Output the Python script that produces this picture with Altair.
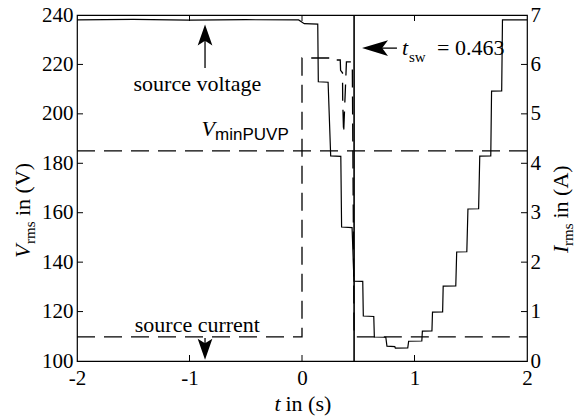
import altair as alt
import pandas as pd

# ---------------- data ----------------
# source voltage (rms), t in s, V in volts
t_volt = [-2.0, -1.5, -1.0, -0.5, -0.03, 0.02, 0.14, 0.145, 0.232, 0.255, 0.345, 0.352,
          0.445, 0.462, 0.54, 0.545, 0.638, 0.643, 0.745, 0.755, 0.825, 0.83, 0.94, 0.948,
          1.065, 1.07, 1.155, 1.16, 1.25, 1.255, 1.367, 1.375, 1.465, 1.475, 1.57, 1.58,
          1.678, 1.685, 1.775, 1.782, 2.0]
v_volt = [238.0, 238.2, 237.9, 238.1, 238.0, 236.5, 236.3, 213.0, 212.8, 183.0, 182.8, 154.2,
          154.0, 132.3, 132.2, 118.2, 118.0, 109.7, 109.6, 106.0, 105.8, 105.2, 105.3, 108.0,
          108.1, 112.1, 112.2, 119.8, 119.9, 130.3, 130.4, 144.1, 144.2, 161.5, 161.6, 182.9,
          183.0, 209.2, 209.3, 238.0, 238.0]

# source current (rms), A
t_curr = [-2.0, 0.0, 0.0, 0.29, 0.295, 0.34, 0.343, 0.36, 0.362, 0.37, 0.395, 0.447, 0.463, 2.0]
i_curr = [0.49, 0.49, 6.13, 6.13, 6.09, 6.09, 5.88, 5.83, 5.24, 4.61, 6.05, 6.05, 0.49, 0.49]

v_min_puvp = [185]
t_sw = [0.463]

x_ticks = [-2, -1, 0, 1, 2]
v_ticks = [100, 120, 140, 160, 180, 200, 220, 240]
i_ticks = [0, 1, 2, 3, 4, 5, 6, 7]

# ---------------- setup ----------------
W, H = 450, 346
SERIF = "Liberation Serif"
SANS = "Liberation Sans"
FS = 21
FA = 22
XS = alt.Scale(domain=[-2, 2], nice=False, zero=False)
VS = alt.Scale(domain=[100, 240], nice=False, zero=False)
IS = alt.Scale(domain=[0, 7], nice=False, zero=False)

volt_df = pd.DataFrame({"t": t_volt, "v": v_volt, "k": range(len(t_volt))})
curr_df = pd.DataFrame({"t": t_curr, "i": i_curr, "k": range(len(t_curr))})

lab = dict(labelFont=SERIF, labelFontSize=FS, labelColor="black", ticks=False,
           domain=False, grid=False, title=None)

volt = alt.Chart(volt_df).mark_line(color="black", strokeWidth=1.2).encode(
    x=alt.X("t:Q", scale=XS, axis=alt.Axis(values=x_ticks, labelPadding=6, labelFlush=False,
            labelExpr="datum.value < 0 ? '-' + abs(datum.value) : '' + datum.value", **lab)),
    y=alt.Y("v:Q", scale=VS, axis=alt.Axis(orient="left", values=v_ticks, labelPadding=4, **lab)),
    order="k:Q",
)

curr = alt.Chart(curr_df).mark_line(color="black", strokeWidth=1.3, strokeDash=[18, 9]).encode(
    x=alt.X("t:Q", scale=XS, axis=None),
    y=alt.Y("i:Q", scale=IS, axis=alt.Axis(orient="right", values=i_ticks, labelPadding=3, **lab)),
    order="k:Q",
)

puvp = alt.Chart(pd.DataFrame({"v": v_min_puvp})).mark_rule(
    color="black", strokeWidth=1.3, strokeDash=[18, 9]).encode(
    y=alt.Y("v:Q", scale=VS, axis=None))

tsw = alt.Chart(pd.DataFrame({"t": t_sw})).mark_rule(color="black", strokeWidth=1.6).encode(
    x=alt.X("t:Q", scale=XS, axis=None))

# inward ticks
xt_in = pd.DataFrame({"t": x_ticks[1:-1]})
tick_b = alt.Chart(xt_in).mark_rule(color="black").encode(
    x=alt.X("t:Q", scale=XS, axis=None), y=alt.value(H), y2=alt.value(H - 6))
tick_t = alt.Chart(xt_in).mark_rule(color="black").encode(
    x=alt.X("t:Q", scale=XS, axis=None), y=alt.value(0), y2=alt.value(6))
tick_l = alt.Chart(pd.DataFrame({"v": v_ticks[1:-1]})).mark_rule(color="black").encode(
    y=alt.Y("v:Q", scale=VS, axis=None), x=alt.value(0), x2=alt.value(6))
tick_r = alt.Chart(pd.DataFrame({"i": i_ticks[1:-1]})).mark_rule(color="black").encode(
    y=alt.Y("i:Q", scale=IS, axis=None), x=alt.value(W), x2=alt.value(W - 6))


# ---------------- annotations ----------------
def dtext(t, v, s, size=FA, font=SERIF, style="normal", align="left", baseline="alphabetic"):
    return alt.Chart(pd.DataFrame({"t": [t], "v": [v], "s": [s]})).mark_text(
        font=font, fontSize=size, fontStyle=style, align=align, baseline=baseline,
        color="black").encode(
        x=alt.X("t:Q", scale=XS, axis=None), y=alt.Y("v:Q", scale=VS, axis=None), text="s:N")


def ptext(x, y, s, size=FA, font=SERIF, style="normal", align="left", angle=0):
    return alt.Chart(pd.DataFrame({"s": [s]})).mark_text(
        font=font, fontSize=size, fontStyle=style, align=align, baseline="alphabetic",
        angle=angle, color="black").encode(x=alt.value(x), y=alt.value(y), text="s:N")


def shaft(t1, v1, t2, v2):
    return alt.Chart(pd.DataFrame({"t": [t1], "v": [v1], "t2": [t2], "v2": [v2]})).mark_rule(
        color="black", strokeWidth=1.3).encode(
        x=alt.X("t:Q", scale=XS, axis=None), x2="t2:Q",
        y=alt.Y("v:Q", scale=VS, axis=None), y2="v2:Q")


def head(t, v, path, size):
    return alt.Chart(pd.DataFrame({"t": [t], "v": [v]})).mark_point(
        shape=path, size=size, filled=True, color="black", opacity=1, strokeWidth=0).encode(
        x=alt.X("t:Q", scale=XS, axis=None), y=alt.Y("v:Q", scale=VS, axis=None))


UP = "M0,-1 L0.7,1 L0,0.55 L-0.7,1 Z"
DOWN = "M0,1 L0.7,-1 L0,-0.55 L-0.7,-1 Z"
LEFT = "M-1,0 L1,-0.6 L0.55,0 L1,0.6 Z"

annots = [
    dtext(-0.93, 212, "source voltage", align="center", baseline="middle"),
    shaft(-0.862, 218.6, -0.862, 231.5),
    head(-0.862, 231.9, UP, 440),
    dtext(-0.93, 114.5, "source current", align="center", baseline="middle"),
    shaft(-0.862, 109.3, -0.862, 105.5),
    head(-0.862, 104.8, DOWN, 440),
    dtext(-0.773, 191.0, "V", style="italic", align="right"),
    dtext(-0.773, 189.4, "minPUVP", size=17, font=SANS),
    shaft(0.649, 226.6, 0.844, 226.6),
    head(0.649, 226.6, LEFT, 676),
    dtext(0.889, 223.8, "t", style="italic"),
    dtext(0.951, 221.0, "sw", size=15),
    dtext(1.20, 223.8, "= 0.463"),
]

# axis titles (pixel positions relative to plot origin)
titles = [
    ptext(197.5, 396, "t", style="italic"),
    ptext(208.5, 396, "in (s)"),
    ptext(-47, 243, "V", style="italic", angle=270),
    ptext(-42, 229, "rms", size=15, angle=270),
    ptext(-47, 201, "in (V)", angle=270),
    ptext(491, 238, "I", style="italic", angle=270),
    ptext(496, 231, "rms", size=15, angle=270),
    ptext(491, 203.5, "in (A)", angle=270),
]

chart = alt.layer(
    volt, curr, puvp, tsw, tick_b, tick_t, tick_l, tick_r, *annots, *titles
).resolve_scale(y="independent").resolve_axis(x="independent").properties(
    width=W, height=H,
    padding={"left": 77, "top": 15, "right": 48, "bottom": 58},
    autosize=alt.AutoSizeParams(type="none"),
    background="white",
).configure_view(stroke="black", strokeWidth=1.2)

chart.save("out.html", embed_options={"renderer": "svg", "actions": False})
